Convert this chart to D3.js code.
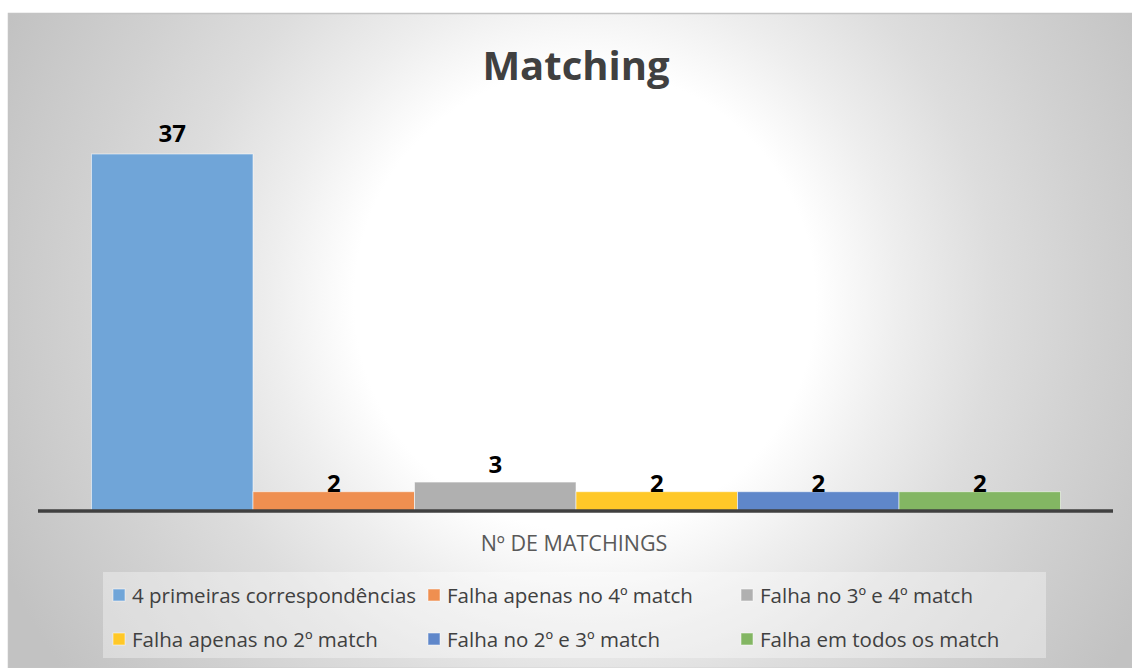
<!DOCTYPE html>
<html>
<head>
<meta charset="utf-8">
<script src="https://cdn.jsdelivr.net/npm/d3@7"></script>
<style>
  html, body { margin: 0; padding: 0; background: #ffffff; }
  svg { display: block; }
  text { font-family: "Open Sans", "Noto Sans", sans-serif; }
</style>
</head>
<body>
<svg id="chart" width="1132" height="668"></svg>
<script>
// Series: one bar per outcome of the matching test
const categories = [
  "4 primeiras correspondências",
  "Falha apenas no 4º match",
  "Falha no 3º e 4º match",
  "Falha apenas no 2º match",
  "Falha no 2º e 3º match",
  "Falha em todos os match"
];
const values = [37, 2, 3, 2, 2, 2];
const seriesColors = ["#70A5D8", "#EF8F50", "#B0B0B0", "#FFC828", "#5F87CA", "#83B663"];
const chartTitle = "Matching";
const axisTitle = "Nº DE MATCHINGS";

const W = 1132, H = 668;
const svg = d3.select("#chart");

// Background panel with a soft radial fill
const defs = svg.append("defs");
const grad = defs.append("radialGradient")
  .attr("id", "bg")
  .attr("gradientUnits", "userSpaceOnUse")
  .attr("cx", 585).attr("cy", 300).attr("r", 640);
[[0, "#ffffff"], [0.36, "#ffffff"], [0.49, "#eeeeee"], [0.64, "#dddddd"], [0.79, "#d1d1d1"], [1, "#c2c2c2"]]
  .forEach(([o, c]) => grad.append("stop").attr("offset", o).attr("stop-color", c));

svg.append("rect")
  .attr("x", 8.5).attr("y", 13.5)
  .attr("width", W - 8).attr("height", H - 13)
  .attr("fill", "url(#bg)")
  .attr("stroke", "#c4c4c4").attr("stroke-width", 1.5);

// Scales
const x = d3.scaleBand().domain(categories).range([91.5, 1060.5]).padding(0);
const y = d3.scaleLinear().domain([0, 40]).range([511, 511 - 40 * 9.649]);

// Title
svg.append("text")
  .attr("x", 576).attr("y", 80)
  .attr("text-anchor", "middle")
  .attr("font-size", 40).attr("font-weight", 700)
  .attr("fill", "#404040")
  .text(chartTitle);

// Bars
svg.append("g").selectAll("rect")
  .data(categories)
  .join("rect")
  .attr("x", d => x(d))
  .attr("y", (d, i) => y(values[i]))
  .attr("width", x.bandwidth())
  .attr("height", (d, i) => y(0) - y(values[i]))
  .attr("fill", (d, i) => seriesColors[i])
  .attr("stroke", "#ffffff").attr("stroke-opacity", 0.55).attr("stroke-width", 1);

// Value labels above each bar
const labelGap = [12, 0, 9, 0, 0, 0];
svg.append("g").selectAll("text")
  .data(categories)
  .join("text")
  .attr("x", d => x(d) + x.bandwidth() / 2)
  .attr("y", (d, i) => y(values[i]) - labelGap[i])
  .attr("text-anchor", "middle")
  .attr("font-size", 24).attr("font-weight", 700)
  .attr("fill", "#000000")
  .text((d, i) => values[i]);

// Category axis line
svg.append("line")
  .attr("x1", 38).attr("x2", 1113)
  .attr("y1", y(0)).attr("y2", y(0))
  .attr("stroke", "#404040").attr("stroke-width", 3.5);

// Axis title
svg.append("text")
  .attr("x", 574).attr("y", 551)
  .attr("text-anchor", "middle")
  .attr("font-size", 21.5)
  .attr("fill", "#595959")
  .text(axisTitle);

// Legend
const legend = svg.append("g");
legend.append("rect")
  .attr("x", 103).attr("y", 572)
  .attr("width", 943).attr("height", 86)
  .attr("fill", "#ffffff").attr("fill-opacity", 0.35);

const colX = [113, 428, 741];
const rowY = [603, 647];
const items = legend.selectAll("g")
  .data(categories)
  .join("g")
  .attr("transform", (d, i) => `translate(${colX[i % 3]},${rowY[Math.floor(i / 3)]})`);
items.append("rect")
  .attr("x", 0).attr("y", -14)
  .attr("width", 12).attr("height", 12)
  .attr("fill", (d, i) => seriesColors[i])
  .attr("stroke", "#ffffff").attr("stroke-opacity", 0.5).attr("stroke-width", 1);
items.append("text")
  .attr("x", 19).attr("y", 0)
  .attr("font-size", 20.5)
  .attr("fill", "#404040")
  .text(d => d);
</script>
</body>
</html>
